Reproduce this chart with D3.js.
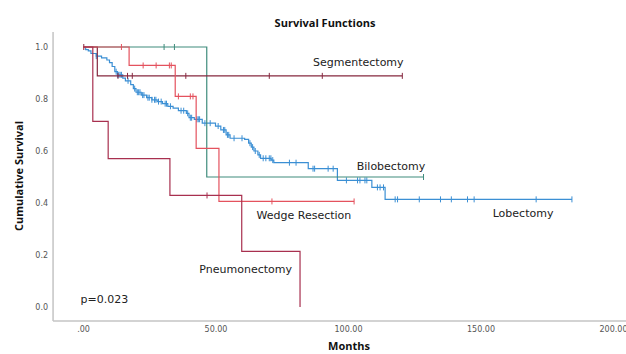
<!DOCTYPE html>
<meta charset="utf-8">
<style>
body { margin: 0; background: #fff; }
.tick text { font: 8px "DejaVu Sans", sans-serif; fill: #555; }
.lbl { font: 11px "DejaVu Sans", sans-serif; fill: #222; }
.ttl { font: bold 11px "Open Sans", sans-serif; fill: #111; }
.curve { fill: none; stroke-width: 1.2; }
</style>
<script src="https://d3js.org/d3.v7.min.js"></script>
<svg width="626" height="354"></svg>
<script>

// ---- data (months / cumulative survival) ----
var groups = ["Lobectomy", "Bilobectomy", "Segmentectomy", "Wedge Resection", "Pneumonectomy"];

var lobTimes = [1, 2, 3, 5, 7, 9, 10, 11, 12, 13, 15, 16, 18, 19, 20, 22, 24, 26, 28, 30, 32, 34, 36, 39, 40, 42, 45, 50, 52, 54, 55.5, 61, 62.5, 63.5, 64.5, 66, 67, 71, 72, 85, 96, 109, 114];
var lobSurv  = [.99, .985, .975, .965, .958, .95, .94, .925, .905, .893, .88, .87, .855, .84, .826, .815, .805, .797, .79, .782, .772, .765, .755, .745, .728, .722, .707, .696, .681, .662, .649, .645, .63, .615, .6, .585, .572, .565, .555, .532, .487, .46, .414];
var lobCensor = [5, 12.5, 13, 13.5, 14, 14.5, 17, 19.5, 20.5, 21, 21.5, 22.5, 23, 24.5, 25, 26, 27, 27.5, 28.5, 29.5, 31, 31.5, 33, 37, 38, 39.5, 40.5, 41, 43, 43.5, 44, 46, 48, 51, 53, 53.5, 54.5, 55, 57, 60, 63, 64, 65, 66.5, 68, 69, 70.3, 70.9, 71.6, 77.9, 80.4, 86.8, 87.4, 92.5, 94.4, 99.4, 103.6, 104.5, 106.4, 107.1, 111.1, 112.1, 113.4, 117.8, 118.7, 126.9, 134.9, 139, 145.1, 147.6, 171, 184.5];
var lobEnd = 184.5;

var bilTimes = [46.7];
var bilSurv = [0.5];
var bilCensor = [30.6, 34.5, 128.5];
var bilEnd = 128.5;

var segTimes = [5.4];
var segSurv = [0.889];
var segCensor = [0.3, 13.2, 16.8, 18.6, 38.8, 70.3, 90.3, 120.5];
var segEnd = 120.5;

var wedTimes = [17.4, 34.8, 42.7, 51.3];
var wedSurv = [0.929, 0.81, 0.61, 0.406];
var wedCensor = [14.5, 22.7, 27.6, 32.6, 33.3, 36, 40.5, 41.5, 71.3, 102.3];
var wedEnd = 102.3;

var pneTimes = [3.7, 9.5, 32.8, 59.9, 81.9];
var pneSurv = [0.714, 0.571, 0.429, 0.214, 0];
var pneCensor = [46.8];
var pneEnd = 81.9;

var colors = ["#3b8fd4", "#3f8c7c", "#86283f", "#e4525e", "#a8304f"];

var xTicks = [0, 50, 100, 150, 200];
var yTicks = [0, 0.2, 0.4, 0.6, 0.8, 1.0];

// label anchors in data units (month, survival)
var labelText = ["Segmentectomy", "Bilobectomy", "Wedge Resection", "Lobectomy", "Pneumonectomy", "p=0.023"];
var labelAt = [[86.8, 0.927], [103.3, 0.527], [65.5, 0.337], [154.6, 0.345], [43.9, 0.132], [-0.9, 0.017]];

// ---- chart ----
var svg = d3.select("svg");

var x = d3.scaleLinear().domain([0, 200]).range([83, 613]);
var y = d3.scaleLinear().domain([0, 1]).range([307, 47]);

var series = [
  {t: lobTimes, s: lobSurv, c: lobCensor, end: lobEnd},
  {t: bilTimes, s: bilSurv, c: bilCensor, end: bilEnd},
  {t: segTimes, s: segSurv, c: segCensor, end: segEnd},
  {t: wedTimes, s: wedSurv, c: wedCensor, end: wedEnd},
  {t: pneTimes, s: pneSurv, c: pneCensor, end: pneEnd}
];

function points(d) {
  var p = [[0, 1]];
  d.t.forEach(function(t, i) { p.push([t, d.s[i]]); });
  p.push([d.end, d.s[d.s.length - 1]]);
  return p;
}

function survAt(d, t) {
  var v = 1;
  d.t.forEach(function(tt, i) { if (tt <= t) v = d.s[i]; });
  return v;
}

// axes
var axisColor = "#c4c4c4";
svg.append("line")
    .attr("x1", x(-11.3)).attr("x2", x(-11.3))
    .attr("y1", y(1.058)).attr("y2", y(-0.054))
    .attr("stroke", axisColor).attr("stroke-width", 1.5);
svg.append("line")
    .attr("x1", x(-11.3)).attr("x2", 626)
    .attr("y1", y(-0.054)).attr("y2", y(-0.054))
    .attr("stroke", axisColor).attr("stroke-width", 1.5);

var yAxis = svg.append("g")
    .attr("transform", "translate(" + x(-11.3) + ",0)")
    .call(d3.axisLeft(y).tickValues(yTicks).tickSize(0).tickPadding(5).tickFormat(d3.format(".1f")));
yAxis.select(".domain").remove();

var xAxis = svg.append("g")
    .attr("transform", "translate(0," + y(-0.054) + ")")
    .call(d3.axisBottom(x).tickValues(xTicks).tickSize(0).tickPadding(5)
      .tickFormat(function(v) { return v === 0 ? ".00" : d3.format(".2f")(v); }));
xAxis.select(".domain").remove();

// curves
var line = d3.line()
    .x(function(d) { return x(d[0]); })
    .y(function(d) { return y(d[1]); })
    .curve(d3.curveStepAfter);

var g = svg.selectAll(".grp")
    .data(series)
  .enter().append("g")
    .attr("class", "grp");

g.append("path")
    .attr("class", "curve")
    .attr("stroke", function(d, i) { return colors[i]; })
    .attr("d", function(d) { return line(points(d)); });

g.each(function(d, i) {
  d3.select(this).selectAll("line.cens")
      .data(d.c)
    .enter().append("line")
      .attr("class", "cens")
      .attr("x1", function(t) { return x(t); })
      .attr("x2", function(t) { return x(t); })
      .attr("y1", function(t) { return y(survAt(d, t)) - 3; })
      .attr("y2", function(t) { return y(survAt(d, t)) + 3; })
      .attr("stroke", colors[i])
      .attr("stroke-width", 1);
});

// curve labels
svg.selectAll(".lbl")
    .data(labelText)
  .enter().append("text")
    .attr("class", "lbl")
    .attr("x", function(d, i) { return x(labelAt[i][0]); })
    .attr("y", function(d, i) { return y(labelAt[i][1]); })
    .text(function(d) { return d; });

// titles
svg.append("text")
    .attr("class", "ttl")
    .attr("x", 325).attr("y", 27)
    .attr("text-anchor", "middle")
    .text("Survival Functions");

svg.append("text")
    .attr("class", "ttl")
    .attr("x", 349).attr("y", 350)
    .attr("text-anchor", "middle")
    .text("Months");

svg.append("text")
    .attr("class", "ttl")
    .attr("transform", "translate(23,176) rotate(-90)")
    .attr("text-anchor", "middle")
    .text("Cumulative Survival");

</script>
